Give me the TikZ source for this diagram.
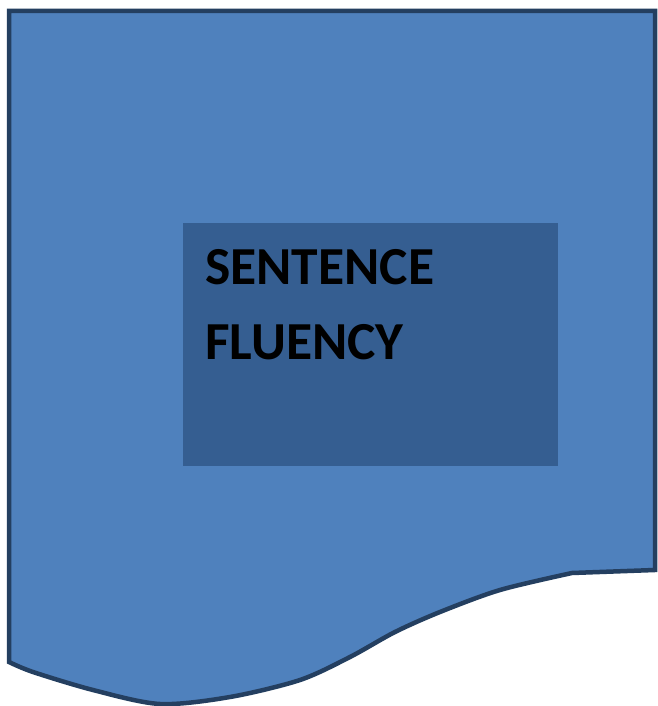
\documentclass[tikz,border=0pt]{standalone}
\usepackage{fontspec}
\setmainfont{Carlito}
\definecolor{docfill}{HTML}{4F81BD}
\definecolor{docline}{HTML}{243F60}
\definecolor{innerfill}{HTML}{355E91}
\begin{document}
\begin{tikzpicture}[x=1pt,y=1pt,
  docshape/.style={fill=docfill,draw=docline,line width=4.5pt,line join=miter},
  innerbox/.style={fill=innerfill,draw=none},
  label/.style={anchor=base west,inner sep=0pt,font=\bfseries\fontsize{53.5}{64}\selectfont,text=black}]
\useasboundingbox (0,0) rectangle (657,706);
\fill[white] (0,0) rectangle (657,706);
\draw[docshape] (9,695) -- (655,695) -- (655,136) -- (572,133)
  -- plot[smooth,tension=0.5] coordinates {(572,133) (500,116) (440,94) (395,74) (350,49) (300,26) (230,9) (160,2) (93,16) (33,34) (9,44)}
  -- cycle;
\node[innerbox,minimum width=375pt,minimum height=243pt,inner sep=0pt,anchor=north west] (box) at (183,483) {};
\node[label] (t1) at (205,421) {SENTENCE};
\node[label] (t2) at (205,346) {FLUENCY};
\end{tikzpicture}
\end{document}
